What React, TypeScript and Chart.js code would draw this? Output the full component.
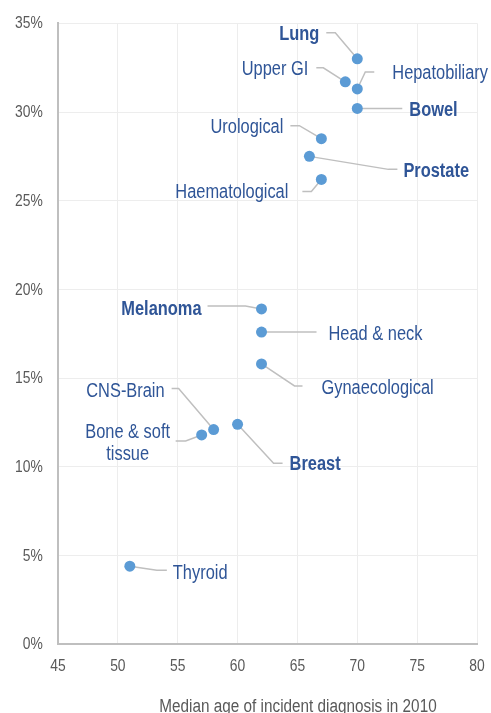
import React, { useEffect, useRef } from 'react';
import { Chart, registerables } from 'chart.js';

Chart.register(...registerables);

// ---- data ----
const categories = [
  'Lung', 'Upper GI', 'Hepatobiliary', 'Bowel', 'Urological', 'Prostate', 'Haematological',
  'Melanoma', 'Head & neck', 'Gynaecological', 'CNS-Brain', 'Bone & soft tissue', 'Breast', 'Thyroid',
];
const medianAge = [70, 69, 70, 70, 67, 66, 67, 62, 62, 62, 58, 57, 60, 51];
const pctValue = [33.0, 31.7, 31.3, 30.2, 28.5, 27.5, 26.2, 18.9, 17.6, 15.8, 12.1, 11.8, 12.4, 4.4];
const xTicks = [45, 50, 55, 60, 65, 70, 75, 80];
const yTicks = [0, 5, 10, 15, 20, 25, 30, 35];
const xTitle = 'Median age of incident diagnosis in 2010';

// ---- label layout (pixel offsets relative to each point) ----
type Lay = { elbow: [number, number]; end: [number, number]; text: [number, number]; align: CanvasTextAlign; bold?: boolean; lines?: string[] };
const labelLayout: Lay[] = [
  { elbow: [-22, -26], end: [-31, -26], text: [-38, -24], align: 'right', bold: true },
  { elbow: [-22, -14], end: [-29, -14], text: [-37, -12], align: 'right' },
  { elbow: [8, -17], end: [17, -17], text: [35, -15], align: 'left' },
  { elbow: [38, 0], end: [45, 0], text: [52, 2], align: 'left', bold: true },
  { elbow: [-22, -13], end: [-31, -13], text: [-38, -11], align: 'right' },
  { elbow: [79, 13], end: [88, 13], text: [94, 15], align: 'left', bold: true },
  { elbow: [-10, 12], end: [-19, 12], text: [-33, 13.5], align: 'right' },
  { elbow: [-16, -3], end: [-54, -3], text: [-60, 0.5], align: 'right', bold: true },
  { elbow: [48, 0], end: [55, 0], text: [67, 2.5], align: 'left' },
  { elbow: [33, 22], end: [41, 22], text: [60, 24.5], align: 'left' },
  { elbow: [-35, -41], end: [-42, -41], text: [-49, -38], align: 'right' },
  { elbow: [-16, 6], end: [-26, 6], text: [-74, -2.5], align: 'center', lines: ['Bone & soft', 'tissue'] },
  { elbow: [36, 39], end: [45, 39], text: [52, 40.5], align: 'left', bold: true },
  { elbow: [27, 4], end: [37, 4], text: [43, 7], align: 'left' },
];

const FONT = '"Liberation Sans", Arial, sans-serif';
const LABEL_COLOR = '#2F5597';
const TICK_COLOR = '#595959';

function drawText(
  ctx: CanvasRenderingContext2D, text: string, x: number, y: number,
  align: CanvasTextAlign, baseline: CanvasTextBaseline, font: string, sx: number, color: string,
) {
  ctx.save();
  ctx.translate(x, y);
  ctx.scale(sx, 1);
  ctx.font = font;
  ctx.textAlign = align;
  ctx.textBaseline = baseline;
  ctx.fillStyle = color;
  ctx.fillText(text, 0, 0);
  ctx.restore();
}

const labelPlugin = {
  id: 'pointLabels',
  beforeDatasetsDraw(chart: any) {
    const { ctx, scales: { x, y } } = chart;
    ctx.save();
    ctx.strokeStyle = '#BFBFBF';
    ctx.lineWidth = 1.5;
    categories.forEach((_, i) => {
      const px = x.getPixelForValue(medianAge[i]);
      const py = y.getPixelForValue(pctValue[i]);
      const L = labelLayout[i];
      ctx.beginPath();
      ctx.moveTo(px, py);
      ctx.lineTo(px + L.elbow[0], py + L.elbow[1]);
      ctx.lineTo(px + L.end[0], py + L.end[1]);
      ctx.stroke();
    });
    ctx.restore();
  },
  afterDatasetsDraw(chart: any) {
    const { ctx, scales: { x, y } } = chart;
    categories.forEach((name, i) => {
      const px = x.getPixelForValue(medianAge[i]);
      const py = y.getPixelForValue(pctValue[i]);
      const L = labelLayout[i];
      const font = `${L.bold ? 'bold ' : ''}20px ${FONT}`;
      const lines = L.lines || [name];
      lines.forEach((ln, k) => {
        drawText(ctx, ln, px + L.text[0], py + L.text[1] + k * 22, L.align, 'middle', font, 0.82, LABEL_COLOR);
      });
    });
  },
  afterDraw(chart: any) {
    const { ctx, scales: { x, y } } = chart;
    const tickFont = `17px ${FONT}`;
    xTicks.forEach((v) => {
      drawText(ctx, String(v), x.getPixelForValue(v), y.bottom + 22.5, 'center', 'middle', tickFont, 0.815, TICK_COLOR);
    });
    yTicks.forEach((v) => {
      drawText(ctx, `${v}%`, x.left - 15.3, y.getPixelForValue(v) + 0.5, 'right', 'middle', tickFont, 0.815, TICK_COLOR);
    });
    drawText(ctx, xTitle, 298, 711.5, 'center', 'alphabetic', `18px ${FONT}`, 0.85, TICK_COLOR);
  },
};

export default function App() {
  const ref = useRef<HTMLCanvasElement>(null);
  useEffect(() => {
    const chart = new Chart(ref.current as HTMLCanvasElement, {
      type: 'scatter',
      data: {
        datasets: [
          {
            data: medianAge.map((a, i) => ({ x: a, y: pctValue[i] })),
            backgroundColor: '#5B9BD5',
            borderColor: '#5B9BD5',
            borderWidth: 0,
            pointRadius: 5.5,
          },
        ],
      },
      options: {
        responsive: false,
        animation: false,
        layout: { padding: { top: 23.3, right: 14, left: 0, bottom: 0 } },
        plugins: { legend: { display: false }, tooltip: { enabled: false } },
        scales: {
          x: {
            type: 'linear',
            min: xTicks[0],
            max: xTicks[xTicks.length - 1],
            afterBuildTicks: (s: any) => { s.ticks = xTicks.map((v) => ({ value: v })); },
            ticks: { display: false },
            grid: { color: '#EDEDED', drawTicks: false, lineWidth: 1 },
            border: { color: '#BFBFBF', width: 2 },
            afterFit: (s: any) => { s.height = 68.7; s.paddingLeft = 0; s.paddingRight = 0; },
          },
          y: {
            type: 'linear',
            min: yTicks[0],
            max: yTicks[yTicks.length - 1],
            afterBuildTicks: (s: any) => { s.ticks = yTicks.map((v) => ({ value: v })); },
            ticks: { display: false },
            grid: { color: '#EDEDED', drawTicks: false, lineWidth: 1 },
            border: { color: '#BFBFBF', width: 2 },
            afterFit: (s: any) => { s.width = 58; s.paddingTop = 0; s.paddingBottom = 0; },
          },
        },
      },
      plugins: [labelPlugin],
    });
    return () => chart.destroy();
  }, []);
  return (
    <div style={{ position: 'absolute', left: 0, top: 0, width: 491, height: 713 }}>
      <canvas ref={ref} width={491} height={713} style={{ display: 'block' }} />
    </div>
  );
}
